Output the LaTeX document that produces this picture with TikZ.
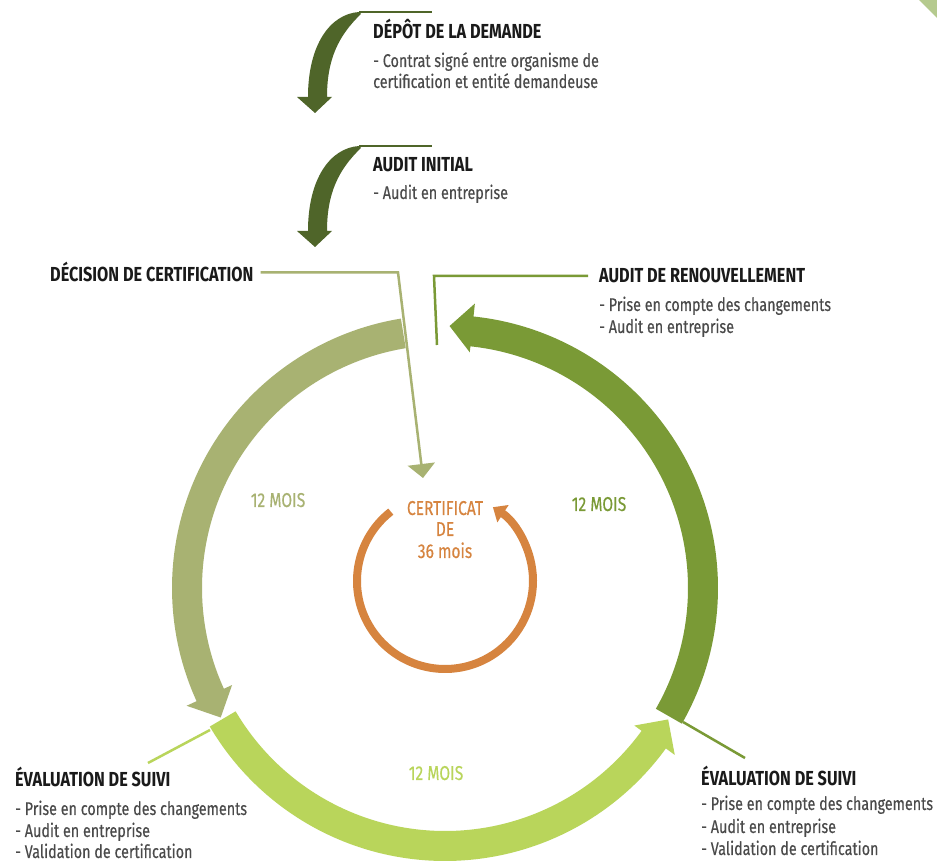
\documentclass[tikz,border=0pt]{standalone}
\usepackage{fontspec}
\setmainfont{Fira Sans}[FakeStretch=0.8]
\newfontfamily\medfont{Fira Sans}[FakeStretch=0.78, FakeBold=0.35]
\usetikzlibrary{arrows.meta}
\definecolor{cDark}{HTML}{4F6529}
\definecolor{cOlive}{HTML}{A8B272}
\definecolor{cLime}{HTML}{B9D55B}
\definecolor{cGreen}{HTML}{7A9A36}
\definecolor{cOrange}{HTML}{D6843F}
\definecolor{cTitle}{HTML}{1A1A1A}
\definecolor{cBody}{HTML}{4A4A4A}
\definecolor{cCorner}{HTML}{B5CA8E}
\begin{document}
\begin{tikzpicture}[x=1pt,y=1pt,
  titletxt/.style={font=\bfseries\fontsize{20.3}{24}\selectfont, text=cTitle, inner sep=0pt, anchor=base west},
  bodytxt/.style={font=\medfont\fontsize{18.4}{22}\selectfont, text=cBody, inner sep=0pt, anchor=base west},
  moistxt/.style={font=\medfont\fontsize{20}{24}\selectfont, inner sep=0pt, anchor=base},
  leader/.style={line width=2.5pt},
  curvearrow/.style={fill=cDark}]
\fill[white] (0,0) rectangle (937,864);
\useasboundingbox (0,0) rectangle (937,864);

% corner triangle
\fill[cCorner] (919,864) -- (937,864) -- (937,846) -- cycle;

% top curved arrows
\foreach \dy in {0,134}{
  \begin{scope}[yshift=-\dy pt]
    \fill[curvearrow] (359,852) .. controls (330,850) and (308,819) .. (308,767)
      -- (297,767) -- (315,751) -- (332,767) -- (327,767)
      .. controls (327,804) and (338,828) .. (361,850) -- cycle;
    \draw[cDark, leader] (359,852) -- (432,852);
  \end{scope}
}

% texts
\node[titletxt] (depot) at (373,825) {DÉPÔT DE LA DEMANDE};
\node[bodytxt] (depot1) at (373,797) {- Contrat signé entre organisme de};
\node[bodytxt] (depot2) at (373,776) {certification et entité demandeuse};
\node[titletxt] (initial) at (373,692) {AUDIT INITIAL};
\node[bodytxt] (initial1) at (373,665) {- Audit en entreprise};
\node[titletxt] (decision) at (50,582) {DÉCISION DE CERTIFICATION};
\node[titletxt] (renouv) at (599,581) {AUDIT DE RENOUVELLEMENT};
\node[bodytxt] (renouv1) at (599,553) {- Prise en compte des changements};
\node[bodytxt] (renouv2) at (599,531) {- Audit en entreprise};
\node[titletxt] (suiviL) at (15,77) {ÉVALUATION DE SUIVI};
\node[bodytxt] (suiviL1) at (15,49) {- Prise en compte des changements};
\node[bodytxt] (suiviL2) at (15,27) {- Audit en entreprise};
\node[bodytxt] (suiviL3) at (15,6) {- Validation de certification};
\node[titletxt] (suiviR) at (701,78) {ÉVALUATION DE SUIVI};
\node[bodytxt] (suiviR1) at (701,54) {- Prise en compte des changements};
\node[bodytxt] (suiviR2) at (701,31) {- Audit en entreprise};
\node[bodytxt] (suiviR3) at (701,9) {- Validation de certification};

% big ring
\begin{scope}[shift={(445,276)}]
  \fill[cOlive] (99.3:273) arc[start angle=99.3, end angle=204.5, radius=273pt]
    -- (204.5:284) -- (210:259) -- (204.5:234) -- (204.5:243)
    arc[start angle=204.5, end angle=99.3, radius=243pt] -- cycle;
  \fill[cLime] (210.5:273) arc[start angle=210.5, end angle=324, radius=273pt]
    -- (324:284) -- (329.5:259) -- (324:234) -- (324:243)
    arc[start angle=324, end angle=210.5, radius=243pt] -- cycle;
  \fill[cGreen] (330.2:273) arc[start angle=330.2, end angle=444, radius=273pt]
    -- (444:286) -- (449:262) -- (444:237) -- (444:243)
    arc[start angle=444, end angle=330.2, radius=243pt] -- cycle;
\end{scope}

% orange ring
\begin{scope}[shift={(445,283)}]
  \draw[cOrange, line width=8pt, -{Triangle[length=12pt,width=20pt]}]
    (128:88) arc[start angle=128, end angle=417, radius=88pt];
\end{scope}
\node[moistxt, text=cOrange] (cert1) at (445,349) {CERTIFICAT};
\node[moistxt, text=cOrange] (cert2) at (445,328) {DE};
\node[moistxt, text=cOrange] (cert3) at (445,306) {36 mois};

\node[moistxt, text=cOlive] (moisA) at (278,357) {12 MOIS};
\node[moistxt, text=cGreen] (moisB) at (599,353) {12 MOIS};
\node[moistxt, text=cLime] (moisC) at (436,84) {12 MOIS};

% leader lines
\coordinate (d1) at (398,590);
\coordinate (d2) at (423,386);
\draw[cOlive, leader, -{Triangle[length=14pt,width=27pt]}]
  ([xshift=7pt]decision.east) -- (decision.east -| d1) -- (d2);
\coordinate (r1) at (445,590);
\coordinate (r2) at (437,519);
\draw[cGreen, leader] ([xshift=-11pt]renouv.west) -- ([xshift=-11pt]renouv.west -| r1) -- (r2);
\coordinate (sl0) at (148,101);
\coordinate (sl1) at (210,134);
\draw[cLime, leader] (sl0) -- (sl1);
\coordinate (sr0) at (683,142);
\coordinate (sr1) at (745,106);
\draw[cGreen, leader] (sr0) -- (sr1);
\end{tikzpicture}
\end{document}
